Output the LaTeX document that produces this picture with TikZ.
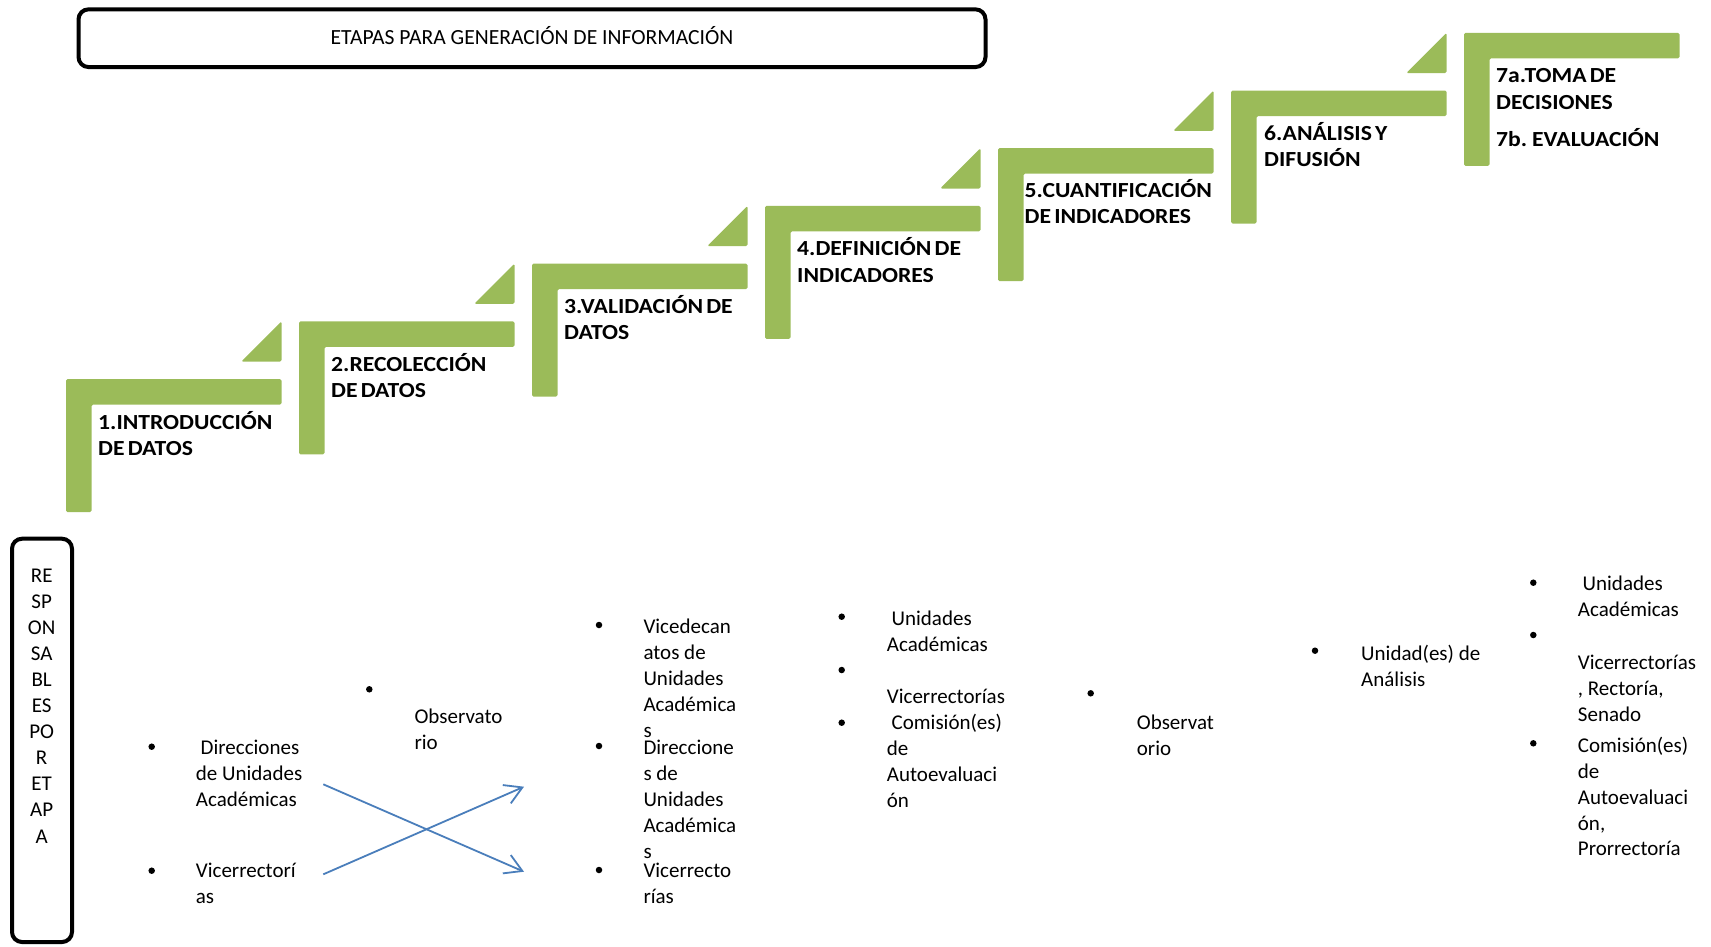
\documentclass[tikz,border=0pt]{standalone}
\usepackage{fontspec}
\setmainfont{Carlito}
\newfontfamily\stepfont[FakeStretch=1.1, WordSpace=0.6]{Carlito}
\usetikzlibrary{arrows.meta}
\definecolor{stepgreen}{HTML}{9BBB59}
\definecolor{arrowblue}{HTML}{4A7EBB}
\newcommand{\mylines}[1]{\begin{tabular}[t]{@{}l@{}}#1\end{tabular}}
\newcommand{\mylinesc}[1]{\begin{tabular}[t]{@{}c@{}}#1\end{tabular}}
\begin{document}
\begin{tikzpicture}[x=1pt,y=-1pt,
  stepshape/.style={fill=stepgreen, rounded corners=1.5pt},
  steplabel/.style={anchor=base west, inner sep=0pt, font=\stepfont\bfseries\fontsize{21.5}{26.3}\selectfont},
  body/.style={anchor=base west, inner sep=0pt, font=\fontsize{21}{26}\selectfont},
  bul/.style={circle, fill=black, inner sep=0pt, minimum size=6.5pt},
  frame/.style={draw=black, line width=4pt, rounded corners=10pt},
  flow/.style={draw=arrowblue, line width=1.8pt, -{Straight Barb[length=17pt,width=20pt]}}
]
\useasboundingbox (0,0) rectangle (1711,946);

% title
\node[frame, minimum width=907pt, minimum height=57.7pt, text height=15.1pt, text depth=3.5pt,
      font=\fontsize{21.6}{26}\selectfont] (title) at (532,38.2) {ETAPAS PARA GENERACIÓN DE INFORMACIÓN};

% steps
\foreach \i in {0,...,6} {
  \fill[stepshape] ({66+233*\i},{379-57.7*\i}) -- ++(215.5,0) -- ++(0,25.5) -- ++(-190,0) -- ++(0,107.5) -- ++(-25.5,0) -- cycle;
}
\foreach \i in {0,...,5} {
  \fill[stepshape] ({66+233*\i+215.5},{379-57.7*\i-57.7}) -- ++(0,40.3) -- ++(-40.3,0) -- cycle;
}
\node[steplabel] (s1) at (98,429) {\mylines{1.INTRODUCCIÓN\\DE DATOS}};
\node[steplabel] (s2) at (331,371.3) {\mylines{2.RECOLECCIÓN\\DE DATOS}};
\node[steplabel] (s3) at (564,313.6) {\mylines{3.VALIDACIÓN DE\\DATOS}};
\node[steplabel] (s4) at (797,255.9) {\mylines{4.DEFINICIÓN DE\\INDICADORES}};
\node[steplabel] (s5) at (1024.5,197.5) {\mylines{5.CUANTIFICACIÓN\\DE INDICADORES}};
\node[steplabel] (s6) at (1264,140.5) {\mylines{6.ANÁLISIS Y\\DIFUSIÓN}};
\node[steplabel] (s7) at (1496,82.8) {\mylines{7a.TOMA DE\\DECISIONES\\[11.4pt]7b. EVALUACIÓN}};

% responsables box
\draw[frame] (12,538.7) rectangle (72,942);
\node[anchor=base, inner sep=0pt, font=\fontsize{21}{26.1}\selectfont] (resp) at (41.7,582)
  {\mylinesc{RE\\SP\\ON\\SA\\BL\\ES\\PO\\R\\ET\\AP\\A}};

% bullets
\foreach \n/\x/\y in {b1/151.7/746.7, b2/151.7/870.7, b3/369.3/689.3, b4/599/625, b5/599/746, b6/599/870,
  b7/841.7/616.7, b8/841.7/670, b9/841.7/722.7, b10/1090.7/693.3, b11/1315/650.7,
  b12/1533.3/582.7, b13/1533.3/635, b14/1533.3/743.3} {
  \node[bul] (\n) at (\x,\y) {};
}

% column texts
\node[body] (c1a) at (195.7,754.3) {\mylines{\ Direcciones\\de Unidades\\Académicas}};
\node[body] (c1b) at (195.7,877.7) {\mylines{Vicerrectorí\\as}};
\node[body] (c2) at (414.3,723.3) {\mylines{Observato\\rio}};
\node[body] (c3a) at (643.3,633.3) {\mylines{Vicedecan\\atos de\\Unidades\\Académica\\s}};
\node[body] (c3b) at (643.3,754.3) {\mylines{Direccione\\s de\\Unidades\\Académica\\s}};
\node[body] (c3c) at (643.3,877.7) {\mylines{Vicerrecto\\rías}};
\node[body] (c4a) at (886.7,625.7) {\mylines{\ Unidades\\Académicas}};
\node[body] (c4b) at (886.7,703.3) {Vicerrectorías};
\node[body] (c4c) at (886.7,729.3) {\mylines{\ Comisión(es)\\de\\Autoevaluaci\\ón}};
\node[body] (c5) at (1136.7,729.3) {\mylines{Observat\\orio}};
\node[body] (c6) at (1361,660) {\mylines{Unidad(es) de\\Análisis}};
\node[body] (c7a) at (1577.7,590) {\mylines{\ Unidades\\Académicas}};
\node[body] (c7b) at (1577.7,669.3) {\mylines{Vicerrectorías\\, Rectoría,\\Senado}};
\node[body, font=\fontsize{21}{25.8}\selectfont] (c7c) at (1577.7,752.7) {\mylines{Comisión(es)\\de\\Autoevaluaci\\ón,\\Prorrectoría}};

% crossing arrows
\coordinate (a1s) at (323.3,784.3);
\coordinate (a1e) at (524,871.7);
\coordinate (a2s) at (323.3,874.3);
\coordinate (a2e) at (524,786.7);
\draw[flow] (a1s) -- (a1e);
\draw[flow] (a2s) -- (a2e);
\end{tikzpicture}
\end{document}
